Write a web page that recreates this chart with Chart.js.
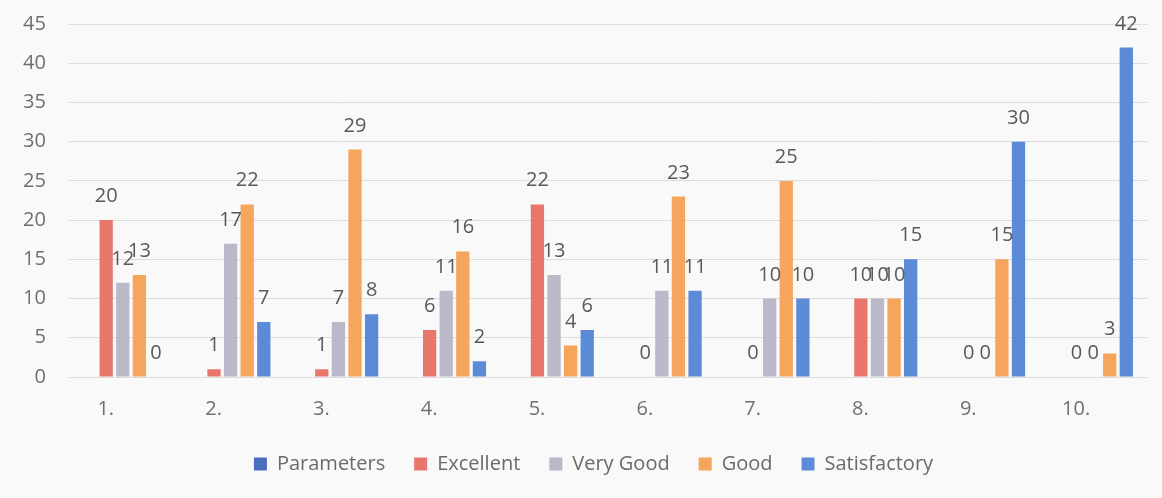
<!DOCTYPE html>
<html>
<head>
<meta charset="utf-8">
<script src="https://cdn.jsdelivr.net/npm/chart.js@4"></script>
<style>
  html, body { margin: 0; padding: 0; background: #f9f9f9; overflow: hidden; }
  /* taller than the window and pulled up, so the plot top lands where the photo has it */
  #wrap { position: relative; top: -11px; width: 1162px; height: 513px; }
</style>
</head>
<body>
<div id="wrap"><canvas id="gradeChart"></canvas></div>
<script>
var categories = ["1.", "2.", "3.", "4.", "5.", "6.", "7.", "8.", "9.", "10."];
var parameters = [null, null, null, null, null, null, null, null, null, null];
var excellent = [20, 1, 1, 6, 22, 0, 0, 10, 0, 0];
var veryGood = [12, 17, 7, 11, 13, 11, 10, 10, 0, 0];
var good = [13, 22, 29, 16, 4, 23, 25, 10, 15, 3];
var satisfactory = [0, 7, 8, 2, 6, 11, 10, 15, 30, 42];
var yTicks = [0, 5, 10, 15, 20, 25, 30, 35, 40, 45];

// draws the value above every bar, like the excel data labels
var valueLabels = {
   id: "valueLabels",
   afterDatasetsDraw: function (chart) {
      var ctx = chart.ctx;
      ctx.save();
      ctx.font = "20px 'Open Sans'";
      ctx.fillStyle = "#595959";
      ctx.textAlign = "center";
      ctx.textBaseline = "alphabetic";
      chart.data.datasets.forEach(function (ds, i) {
         var meta = chart.getDatasetMeta(i);
         meta.data.forEach(function (bar, j) {
            var v = ds.data[j];
            if (v === null || v === undefined) return;
            ctx.fillText(String(v), bar.x, bar.y - 18);
         });
      });
      ctx.restore();
   },
};

// the legend in the picture sits a bit right of the page centre
var legendShift = {
   id: "legendShift",
   afterLayout: function (chart) {
      chart.legend.left += 20;
      chart.legend.right += 20;
      chart.legend.top -= 8;
      chart.legend.bottom -= 8;
   },
};

var ctx = document.getElementById("gradeChart").getContext("2d");
var chart = new Chart(ctx, {
   type: "bar",
   data: {
      labels: categories,
      datasets: [
         { label: "Parameters", data: parameters, backgroundColor: "#4a6fbe" },
         { label: "Excellent", data: excellent, backgroundColor: "#e9766b" },
         { label: "Very Good", data: veryGood, backgroundColor: "#b9b9c9" },
         { label: "Good", data: good, backgroundColor: "#f5a55c" },
         { label: "Satisfactory", data: satisfactory, backgroundColor: "#5b8ad6" },
      ],
   },
   options: {
      responsive: true,
      maintainAspectRatio: false,
      animation: false,
      categoryPercentage: 0.77,
      barPercentage: 0.8,
      layout: { autoPadding: false, padding: { left: 0, right: 15, top: 14, bottom: 10 } },
      plugins: {
         tooltip: { enabled: false },
         legend: {
            position: "bottom",
            labels: {
               font: { family: "Open Sans", size: 20 },
               color: "#6a6a6a",
               boxWidth: 13,
               boxHeight: 13,
               padding: 29,
            },
         },
      },
      scales: {
         x: {
            grid: { display: false },
            border: { display: false },
            ticks: {
               font: { family: "Open Sans", size: 20 },
               color: "#6f6f6f",
               padding: 12,
               labelOffset: -17,
            },
         },
         y: {
            min: 0,
            max: 45,
            afterBuildTicks: function (axis) {
               axis.ticks = yTicks.map(function (v) { return { value: v }; });
            },
            grid: { color: "#dcdcdc", drawTicks: false },
            border: { display: false },
            ticks: {
               font: { family: "Open Sans", size: 20 },
               color: "#6f6f6f",
               padding: 23,
            },
         },
      },
   },
   plugins: [valueLabels, legendShift],
});
</script>
</body>
</html>
